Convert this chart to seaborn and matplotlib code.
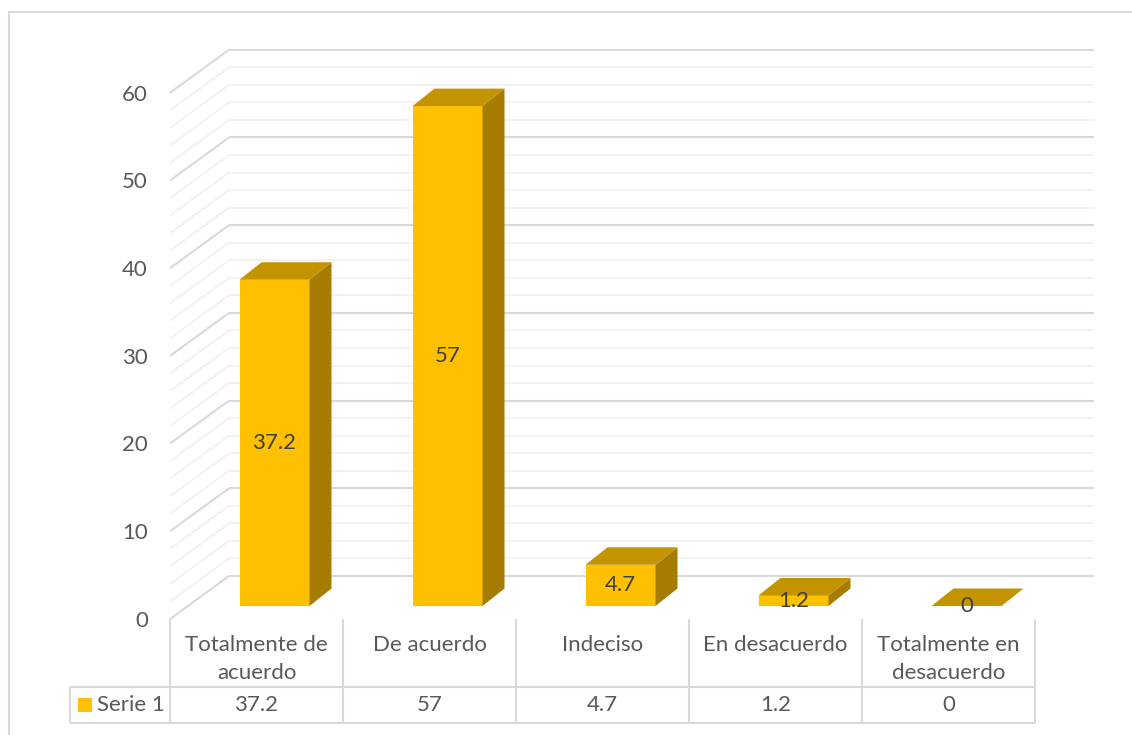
import textwrap

import matplotlib
matplotlib.use("Agg")
import matplotlib.pyplot as plt
from matplotlib.patches import Polygon, Rectangle
import seaborn as sns

# ---- data -------------------------------------------------------------
categories = ["Totalmente de acuerdo", "De acuerdo", "Indeciso",
              "En desacuerdo", "Totalmente en desacuerdo"]
values = [37.2, 57, 4.7, 1.2, 0]
series_name = "Serie 1"
y_major = list(range(0, 61, 10))
y_minor = list(range(0, 61, 2))

# ---- style ------------------------------------------------------------
FRONT = "#FFC000"
TOP = "#C49400"
SIDE = "#A67C00"
TEXT = "#595959"
LABEL = "#404040"
GRID_MAJOR = "#D9D9D9"
GRID_MINOR = "#F0F0F0"
BORDER = "#D9D9D9"
FS = 16

sns.set_theme(style="white")
plt.rcParams["font.family"] = ["Lato", "DejaVu Sans"]

W, H = 1132, 735
fig = plt.figure(figsize=(W / 100, H / 100), dpi=100)
fig.patch.set_facecolor("white")

# plot area = plane of the column fronts (pixels from the top-left corner)
PL, PR, PB, PT = 188, 1053, 606, 79.8
ax = fig.add_axes([PL / W, 1 - PB / H, (PR - PL) / W, (PB - PT) / H])

ncat = len(categories)
ux = (PR - PL) / ncat          # pixels per category
uy = (PB - PT) / y_major[-1]   # pixels per value unit


def px2x(p):
    return (p - PL) / ux - 0.5


def py2y(p):
    return (PB - p) / uy


def off(dx_px, dy_px):
    """pixel offset -> data offset (dy_px positive downward)"""
    return dx_px / ux, -dy_px / uy


back_dx, back_dy = off(41, -30)     # column plane -> back wall
front_dx, front_dy = off(-18, 13)   # column plane -> front edge of floor
depth_dx, depth_dy = off(22, -17.5) # thickness of each column

# ---- columns ----------------------------------------------------------
sns.barplot(x=categories, y=values, color=FRONT, saturation=1,
            width=70 / ux, linewidth=0, errorbar=None, ax=ax, zorder=3)
ax.set_xlim(-0.5, ncat - 0.5)
ax.set_ylim(0, y_major[-1])
ax.axis("off")

for bar in list(ax.patches):
    x0, w, h = bar.get_x(), bar.get_width(), bar.get_height()
    x1 = x0 + w
    side = Polygon([(x1, 0), (x1 + depth_dx, depth_dy),
                    (x1 + depth_dx, h + depth_dy), (x1, h)],
                   closed=True, facecolor=SIDE, edgecolor="none",
                   zorder=3, clip_on=False)
    top = Polygon([(x0, h), (x1, h), (x1 + depth_dx, h + depth_dy),
                   (x0 + depth_dx, h + depth_dy)],
                  closed=True, facecolor=TOP, edgecolor="none",
                  zorder=3, clip_on=False)
    ax.add_patch(side)
    ax.add_patch(top)

# value labels centred on the column fronts
for i, v in enumerate(values):
    ax.text(i, v / 2, f"{v:g}", ha="center", va="center",
            fontsize=FS, color=LABEL, zorder=5, clip_on=False)

# ---- back wall and side wall gridlines --------------------------------
xl = -0.5
xr = ncat - 0.5
for v in y_minor:
    major = v in y_major
    col = GRID_MAJOR if major else GRID_MINOR
    lw = 1.5 if major else 1.2
    ax.plot([xl + back_dx, xr + back_dx], [v + back_dy, v + back_dy],
            color=col, lw=lw, zorder=1 if major else 0.5,
            clip_on=False, solid_capstyle="butt")
    ax.plot([xl + front_dx, xl + back_dx], [v + front_dy, v + back_dy],
            color=col, lw=lw, zorder=1 if major else 0.5,
            clip_on=False, solid_capstyle="butt")

# y tick labels along the front edge of the side wall
for v in y_major:
    ax.text(px2x(148), v + front_dy - 0.2, f"{v}", ha="right", va="center",
            fontsize=FS, color=TEXT, clip_on=False)

# ---- data table -------------------------------------------------------
t_top, t_mid, t_bot = py2y(619), py2y(687), py2y(723)
t_left = px2x(70)
col0 = xl + front_dx
for k in range(ncat + 1):
    ax.plot([col0 + k, col0 + k], [t_top, t_bot], color=GRID_MAJOR,
            lw=1.5, clip_on=False, solid_capstyle="butt", zorder=1)
for yy in (t_mid, t_bot):
    ax.plot([t_left, col0 + ncat], [yy, yy], color=GRID_MAJOR, lw=1.5,
            clip_on=False, solid_capstyle="butt", zorder=1)
ax.plot([t_left, t_left], [t_mid, t_bot], color=GRID_MAJOR, lw=1.5,
        clip_on=False, solid_capstyle="butt", zorder=1)

for k, (cat, v) in enumerate(zip(categories, values)):
    cx = col0 + k + 0.5
    ax.text(cx, py2y(635), textwrap.fill(cat, 13), ha="center", va="top",
            fontsize=FS, color=TEXT, linespacing=1.5, clip_on=False)
    ax.text(cx, py2y(705), f"{v:g}", ha="center", va="center",
            fontsize=FS, color=TEXT, clip_on=False)

# legend key in the table
ax.add_patch(Rectangle((px2x(78), py2y(712)), 14 / ux, 14 / uy,
                       facecolor=FRONT, edgecolor="none", clip_on=False))
ax.text(px2x(97), py2y(705), series_name, ha="left", va="center",
        fontsize=FS, color=TEXT, clip_on=False)

# ---- chart frame -------------------------------------------------------
ax.plot([px2x(9), px2x(9)], [py2y(12), py2y(H)], color=BORDER, lw=1.5,
        clip_on=False)
ax.plot([px2x(9), px2x(W)], [py2y(12), py2y(12)], color=BORDER, lw=1.5,
        clip_on=False)

fig.savefig("out.png", dpi=100, facecolor="white")
